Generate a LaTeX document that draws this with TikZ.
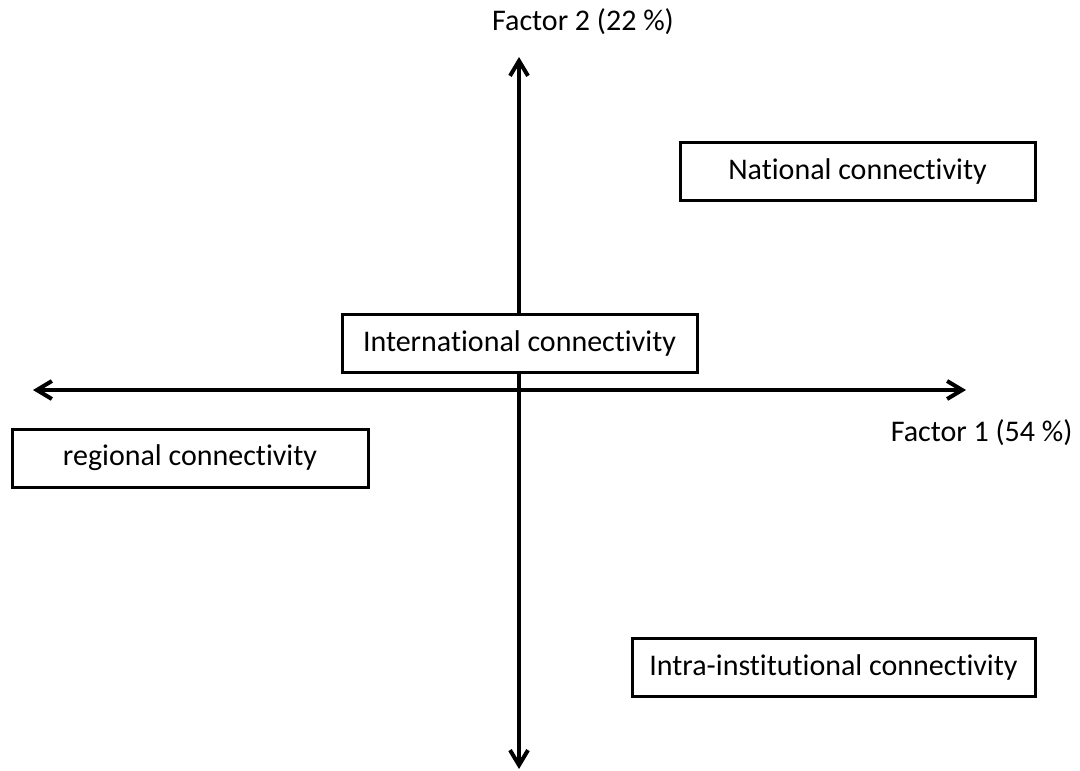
\documentclass[tikz,border=0pt]{standalone}
\usepackage{fontspec}
\setmainfont[Ligatures=NoCommon]{Carlito}
\usetikzlibrary{arrows.meta}

\begin{document}
\begin{tikzpicture}[
		x=1pt, y=-1pt,
		font=\fontsize{30}{36}\selectfont,
		catbox/.style={draw=black, fill=white, line width=3pt,
			minimum height=58pt, inner sep=0pt},
		axis/.style={{Straight Barb[length=15pt, width=18pt]}-{Straight Barb[length=15pt, width=18pt]},
			line width=4pt, draw=black}
	]
		\useasboundingbox (0,0) rectangle (1080,771);
		\coordinate (ytop) at (519,57);
		\coordinate (ybot) at (519,769);
		\coordinate (xleft) at (33,390);
		\coordinate (xright) at (966,390);
		\draw[axis] (ybot) -- (ytop);
		\draw[axis] (xleft) -- (xright);
		\node (factortwo) at (583,22) {Factor 2 (22 \%)};
		\node[anchor=east] (factorone) at (1076,433) {Factor 1 (54 \%)};
		\node[catbox, minimum width=355pt] (national) at (857.5,171.5) {National connectivity};
		\node[catbox, minimum width=355pt] (international) at (519.5,343) {International connectivity};
		\node[catbox, minimum width=356pt] (regional) at (190,458) {regional connectivity};
		\node[catbox, minimum width=403pt] (intra) at (833.5,667.5) {Intra-institutional connectivity};
	\end{tikzpicture}
\end{document}
